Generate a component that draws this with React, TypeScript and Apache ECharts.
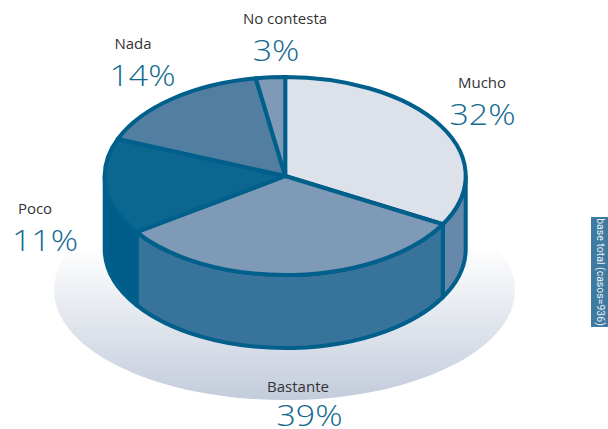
import React, { useEffect, useRef } from "react";
import * as echarts from "echarts";

const categories = ["Mucho", "Bastante", "Poco", "Nada", "No contesta"];
// Percentages printed on the chart
const printedPercents = [32, 39, 11, 14, 3];
// Share of the circle each slice actually occupies in the drawing
const drawnShares = [33.1, 32.3, 15.7, 16.3, 2.6];
const topColors = ["#dde2ea", "#7f9ab6", "#0b6690", "#527ea1", "#7f9ab6"];
const wallColors = ["#6688ab", "#37739a", "#005d8a", "#527ea1", "#7f9ab6"];
const baseNote = "base total (casos=936)";

const LINE = "#005f8b";
const PCT = "#14698f";
const CX = 285.2, CY = 176, RX = 180.5, RY = 99, DEPTH = 73;
const LABEL_POS = [
  { x: 482, y: 82, px: 482.5, py: 113 },
  { x: 298, y: 386, px: 309.5, py: 414 },
  { x: 35, y: 208, px: 45, py: 239 },
  { x: 133, y: 43, px: 142.5, py: 74 },
  { x: 285, y: 18, px: 276, py: 49 },
];

const total = drawnShares.reduce((a, b) => a + b, 0);
const startAngles = drawnShares.map((_, i) =>
  (drawnShares.slice(0, i).reduce((a, b) => a + b, 0) / total) * Math.PI * 2
);
const endAngles = drawnShares.map((_, i) =>
  (drawnShares.slice(0, i + 1).reduce((a, b) => a + b, 0) / total) * Math.PI * 2
);
const pt = (a: number, dy = 0) => [CX + RX * Math.sin(a), CY - RY * Math.cos(a) + dy];
const f = (p: number[]) => `${p[0].toFixed(2)} ${p[1].toFixed(2)}`;

function topPath(a: number, b: number) {
  const large = b - a > Math.PI ? 1 : 0;
  return `M ${CX} ${CY} L ${f(pt(a))} A ${RX} ${RY} 0 ${large} 1 ${f(pt(b))} Z`;
}
function wallPath(a0: number, b0: number) {
  const a = Math.max(a0, Math.PI / 2);
  const b = Math.min(b0, (3 * Math.PI) / 2);
  if (b <= a) return null;
  return `M ${f(pt(a))} A ${RX} ${RY} 0 0 1 ${f(pt(b))} L ${f(pt(b, DEPTH))} A ${RX} ${RY} 0 0 0 ${f(pt(a, DEPTH))} Z`;
}

export default function App() {
  const ref = useRef<HTMLDivElement>(null);
  useEffect(() => {
    const chart = echarts.init(ref.current!, undefined, { renderer: "svg" });
    const texts: any[] = [];
    categories.forEach((c, i) => {
      const p = LABEL_POS[i];
      texts.push({
        type: "text", x: p.x, y: p.y, z: 20,
        style: { text: c, fontFamily: "Open Sans", fontSize: 15, fill: "#333", textAlign: "center", textVerticalAlign: "middle" },
      });
      texts.push({
        type: "text", x: p.px, y: p.py, scaleX: 1.13, z: 20,
        style: { text: printedPercents[i] + "%", fontFamily: "Open Sans", fontWeight: 300, fontSize: 30, lineHeight: 26, fill: PCT, textAlign: "center", textVerticalAlign: "middle" },
      });
    });
    chart.setOption({
      animation: false,
      backgroundColor: "#fff",
      series: [
        {
          type: "custom", coordinateSystem: "none", silent: true, z: 1, data: [0],
          renderItem: () => ({
            type: "ellipse",
            shape: { cx: 284.5, cy: 290, rx: 230.5, ry: 110 },
            style: {
              fill: new echarts.graphic.LinearGradient(0, 0, 0, 1, [
                { offset: 0, color: "#ffffff" },
                { offset: 0.3, color: "#ffffff" },
                { offset: 1, color: "#c3ccdb" },
              ]),
            },
          }),
        },
        {
          type: "custom", coordinateSystem: "none", silent: true, z: 2, data: drawnShares,
          renderItem: (params: any) => {
            const i = params.dataIndex;
            const d = wallPath(startAngles[i], endAngles[i]);
            if (!d) return { type: "group", children: [] };
            return {
              type: "path",
              shape: { pathData: d },
              style: { fill: wallColors[i], stroke: LINE, lineWidth: 4, lineJoin: "round" },
            };
          },
        },
        {
          type: "custom", coordinateSystem: "none", silent: true, z: 3, data: drawnShares,
          renderItem: (params: any) => {
            const i = params.dataIndex;
            return {
              type: "path",
              shape: { pathData: topPath(startAngles[i], endAngles[i]) },
              style: { fill: topColors[i], stroke: LINE, lineWidth: 4, lineJoin: "round" },
            };
          },
        },
      ],
      graphic: [
        ...texts,
        { type: "rect", z: 20, shape: { x: 591, y: 217, width: 17, height: 110 }, style: { fill: "#3f7aa0" } },
        {
          type: "text", x: 600, y: 272, rotation: -Math.PI / 2, z: 21,
          style: { text: baseNote, fontFamily: "Roboto", fontSize: 10.5, fill: "#e8eef4", textAlign: "center", textVerticalAlign: "middle" },
        },
      ],
    });
    return () => chart.dispose();
  }, []);
  return <div ref={ref} style={{ position: "absolute", left: 0, top: 0, width: 608, height: 429 }} />;
}
